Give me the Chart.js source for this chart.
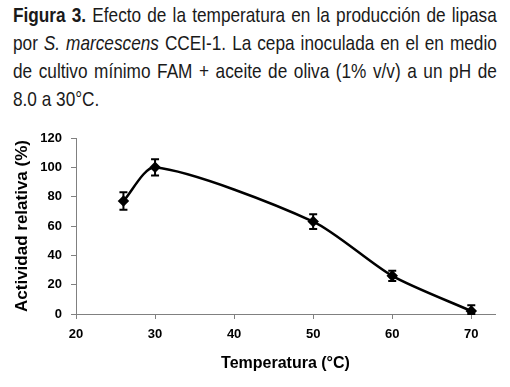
<!DOCTYPE html>
<html>
<head>
<meta charset="utf-8">
<script src="https://cdn.jsdelivr.net/npm/chart.js@4/dist/chart.umd.min.js"></script>
<style>
  html, body { margin: 0; padding: 0; background: #fff; }
  body { width: 510px; height: 387px; position: relative; overflow: hidden; }
  #caption {
    position: absolute; left: 13px; top: 1px; width: 590px;
    transform: scaleX(0.82); transform-origin: 0 0;
    font-family: "Liberation Sans", Arial, sans-serif;
    font-size: 21px; line-height: 28px; color: #1a1a1a;
  }
  #caption .ln { text-align: justify; text-align-last: justify; white-space: nowrap; }
  #caption .ln.last { text-align-last: left; }
  #wrap { position: absolute; left: 0; top: 0; width: 510px; height: 387px; }
</style>
</head>
<body>
<div id="caption">
  <div class="ln"><b>Figura 3.</b> Efecto de la temperatura en la producción de lipasa</div>
  <div class="ln">por <i>S. marcescens</i> CCEI-1. La cepa inoculada en el en medio</div>
  <div class="ln">de cultivo mínimo FAM + aceite de oliva (1% v/v) a un pH de</div>
  <div class="ln last">8.0 a 30°C.</div>
</div>
<div id="wrap"><canvas id="c" width="510" height="387"></canvas></div>
<script>
const temperaturas = [26, 30, 50, 60, 70];
const actividad = [77, 100, 63, 26, 2];
const errores = [6, 5.5, 5, 3.5, 4];
const xTicks = [20, 30, 40, 50, 60, 70];
const yTicks = [0, 20, 40, 60, 80, 100, 120];

const errorBars = {
  id: 'errorBars',
  afterDatasetsDraw(chart) {
    const ctx = chart.ctx, xs = chart.scales.x, ys = chart.scales.y;
    ctx.save();
    ctx.strokeStyle = '#000';
    ctx.lineWidth = 2;
    temperaturas.forEach((t, i) => {
      const x = xs.getPixelForValue(t);
      const yt = ys.getPixelForValue(actividad[i] + errores[i]);
      const yb = Math.min(ys.getPixelForValue(actividad[i] - errores[i]), ys.getPixelForValue(0));
      ctx.beginPath();
      ctx.moveTo(x, yt); ctx.lineTo(x, yb);
      ctx.moveTo(x - 4, yt); ctx.lineTo(x + 4, yt);
      ctx.moveTo(x - 4, yb); ctx.lineTo(x + 4, yb);
      ctx.stroke();
    });
    ctx.restore();
  }
};

const axisColor = '#808080';
const tickFont = { family: '"Liberation Sans", Arial, sans-serif', size: 13, weight: 'bold' };
const xTitleFont = { family: '"Liberation Sans", Arial, sans-serif', size: 16, weight: 'bold' };
const yTitleFont = { family: '"Liberation Sans", Arial, sans-serif', size: 17, weight: 'bold' };

new Chart(document.getElementById('c'), {
  type: 'line',
  data: {
    datasets: [{
      data: temperaturas.map((t, i) => ({ x: t, y: actividad[i] })),
      borderColor: '#000',
      backgroundColor: '#000',
      borderWidth: 2.5,
      tension: 0.25,
      pointStyle: 'rectRot',
      pointRadius: 4,
      pointBackgroundColor: '#000',
      pointBorderColor: '#000',
      fill: false
    }]
  },
  options: {
    responsive: false,
    animation: false,
    layout: { padding: { left: 0, right: 15, top: 138, bottom: 0 } },
    plugins: { legend: { display: false }, tooltip: { enabled: false } },
    scales: {
      x: {
        type: 'linear', min: 20, max: 73,
        afterBuildTicks(s) { s.ticks = xTicks.map(v => ({ value: v })); },
        afterFit(s) { s.height = 73; },
        grid: { drawOnChartArea: false, drawTicks: true, tickLength: 5, color: axisColor },
        border: { color: axisColor, width: 1 },
        ticks: { color: '#000', font: tickFont, padding: 8, maxRotation: 0 },
        title: { display: true, text: 'Temperatura (°C)', color: '#000', font: xTitleFont, padding: { top: 0, bottom: 14 } }
      },
      y: {
        min: 0, max: 120,
        afterBuildTicks(s) { s.ticks = yTicks.map(v => ({ value: v })); },
        afterFit(s) { s.width = 76; },
        grid: { drawOnChartArea: false, drawTicks: true, tickLength: 5, color: axisColor },
        border: { color: axisColor, width: 1 },
        ticks: { color: '#000', font: tickFont, padding: 9 },
        title: { display: true, text: 'Actividad relativa (%)', color: '#000', font: yTitleFont, padding: { top: 12, bottom: 0 } }
      }
    }
  },
  plugins: [errorBars]
});
</script>
</body>
</html>
